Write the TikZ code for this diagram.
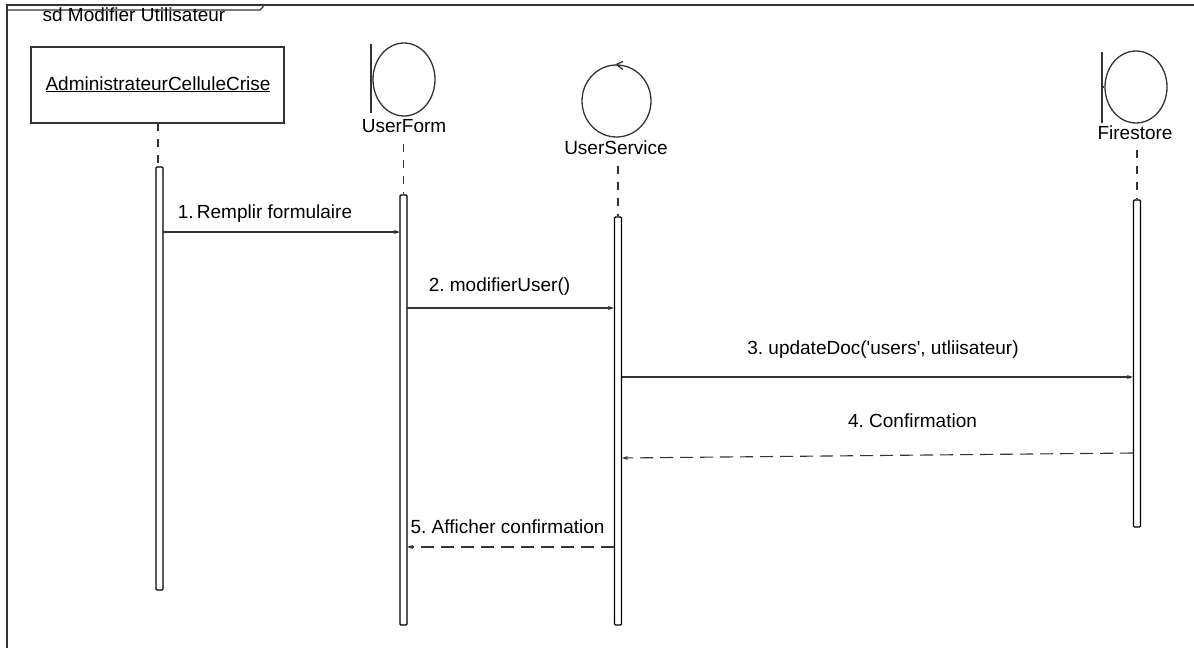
\documentclass[tikz,border=0pt]{standalone}
\usepackage{fontspec}
\setmainfont{Liberation Sans}
\usetikzlibrary{arrows.meta,shapes.geometric}
\frenchspacing
\definecolor{ink}{HTML}{333333}
\tikzset{
  lbl/.style={inner sep=0pt, anchor=base, text=black, font=\fontsize{19}{22}\selectfont},
  actbar/.style={draw=black, fill=white, line width=1.2pt, minimum width=7pt, inner sep=0pt, rounded corners=1pt},
  lifeline/.style={draw=ink, line width=1.2pt, dash pattern=on 8pt off 8pt},
  boundcirc/.style={ellipse, draw=ink, line width=1.3pt, inner sep=0pt},
  msg/.style={draw=ink, line width=1.1pt, -{Stealth[length=6pt,width=4pt]}},
  reply/.style={msg, dash pattern=on 13pt off 7pt}
}
\begin{document}
\begin{tikzpicture}[x=1pt,y=-1pt]
\useasboundingbox (0,0) rectangle (1194,648);

% frame and its label tab
\draw[ink, line width=1.3pt] (1194,5) -- (7,5) -- (7,648);
\draw[ink, line width=1.3pt] (7,10) -- (260,10) -- (263,7) -- (263,5);
\node[lbl] (title) at (134,21) {sd Modifier Utilisateur};

% actor object
\node[draw=ink, line width=1.3pt, minimum width=253pt, minimum height=76pt, inner sep=0pt] (admin) at (157.5,85) {};
\node[lbl] (adminlbl) at (158,90) {\underline{AdministrateurCelluleCrise}};

% boundary UserForm
\node[boundcirc, minimum width=62pt, minimum height=73pt] (ufc) at (404,79.5) {};
\coordinate (uftop) at (371,44);
\coordinate (ufbot) at (371,113);
\draw[ink, line width=1.3pt] (uftop) -- (ufbot);
\draw[ink, line width=1.3pt] (371,80) -- (ufc.west);
\node[lbl] (uflbl) at (404,132) {UserForm};

% control UserService
\node[boundcirc, minimum width=69pt, minimum height=72pt] (usc) at (616.5,101) {};
\draw[ink, line width=1.3pt] (623,61.5) -- (usc.north) -- (623,69.5);
\node[lbl] (uslbl) at (616,154) {UserService};

% boundary Firestore
\node[boundcirc, minimum width=62pt, minimum height=72pt] (fsc) at (1136,87) {};
\coordinate (fstop) at (1102,52);
\coordinate (fsbot) at (1102,123);
\draw[ink, line width=1.3pt] (fstop) -- (fsbot);
\draw[ink, line width=1.3pt] (1102,87) -- (fsc.west);
\node[lbl] (fslbl) at (1135,139) {Firestore};

% activation bars
\node[actbar, minimum height=423pt] (barA) at (159.5,378.5) {};
\node[actbar, minimum height=430pt] (barU) at (403.5,410) {};
\node[actbar, minimum height=408pt] (barS) at (618,421) {};
\node[actbar, minimum height=327pt] (barF) at (1137,363.5) {};

% lifelines
\coordinate (llA) at (158,123);
\coordinate (llU) at (403.5,144);
\coordinate (llS) at (618,166);
\coordinate (llF) at (1137,150);
\draw[lifeline] (llA) -- (158,167);
\draw[lifeline] (llU) -- (barU.north);
\draw[lifeline] (llS) -- (barS.north);
\draw[lifeline] (llF) -- (barF.north);

% message ends
\coordinate (m1a) at (163,232);   \coordinate (m1b) at (400,232);
\coordinate (m2a) at (407,308);   \coordinate (m2b) at (614,308);
\coordinate (m3a) at (622,377);   \coordinate (m3b) at (1133,377);
\coordinate (m4a) at (1133,453);  \coordinate (m4b) at (622,458);
\coordinate (m5a) at (614,547);   \coordinate (m5b) at (407,547);

\draw[msg] (m1a) -- (m1b);
\draw[msg] (m2a) -- (m2b);
\draw[msg] (m3a) -- (m3b);
\draw[reply] (m4a) -- (m4b);
\draw[reply] (m5a) -- (m5b);

\node[lbl] (t1) at (265,218) {1.\,Remplir formulaire};
\node[lbl] (t2) at (499.5,291) {2. modifierUser()};
\node[lbl] (t3) at (883,354) {3. updateDoc(\textquotesingle users\textquotesingle, utliisateur)};
\node[lbl] (t4) at (912.5,427) {4. Confirmation};
\node[lbl] (t5) at (507.5,533) {5. Afficher confirmation};
\end{tikzpicture}
\end{document}
